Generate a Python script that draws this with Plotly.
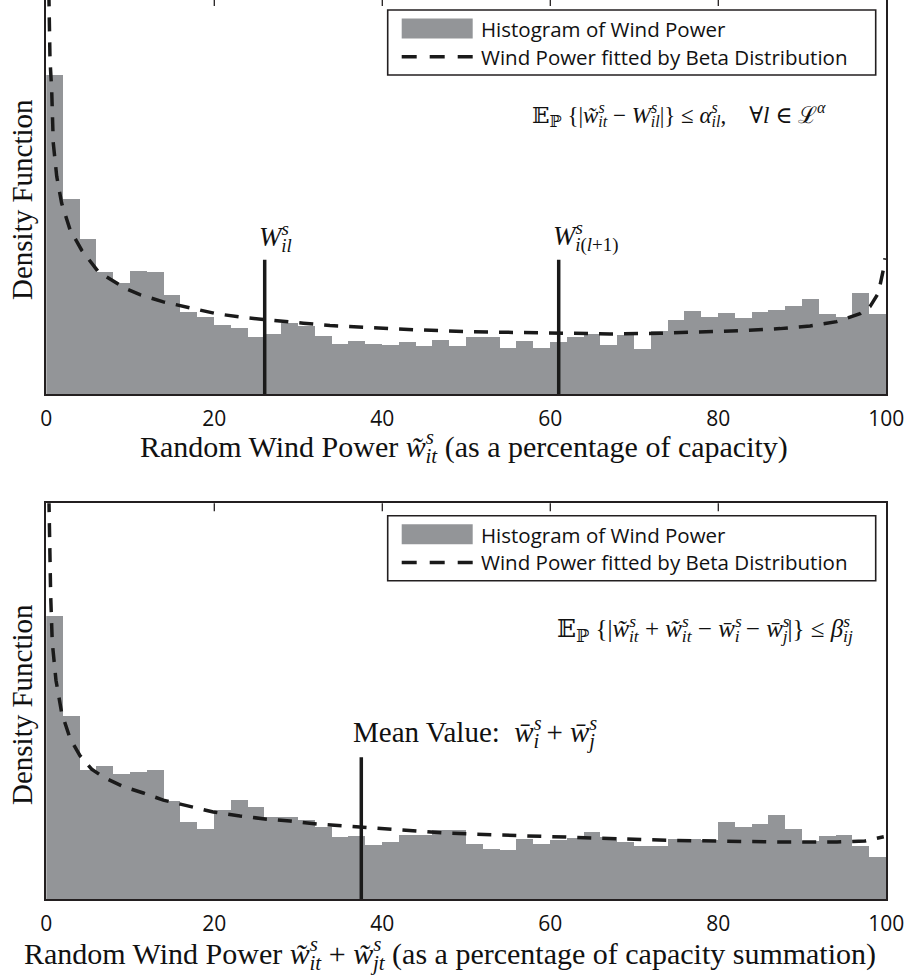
import plotly.graph_objects as go

# ---------------------------------------------------------------------------
# Data: histogram densities (per % of capacity, 2 %-wide bins) and the fitted
# Beta density for single-farm wind power (top) and two-farm sum (bottom).
# ---------------------------------------------------------------------------
bin_centers = [1, 3, 5, 7, 9, 11, 13, 15, 17, 19,
               21, 23, 25, 27, 29, 31, 33, 35, 37, 39,
               41, 43, 45, 47, 49, 51, 53, 55, 57, 59,
               61, 63, 65, 67, 69, 71, 73, 75, 77, 79,
               81, 83, 85, 87, 89, 91, 93, 95, 97, 99]
bin_width = 2

top_density = [0.0402, 0.0245, 0.0195, 0.0153, 0.0140, 0.0155, 0.0154, 0.0125, 0.0103, 0.00966,
               0.00869, 0.00828, 0.00722, 0.00756, 0.00898, 0.00861, 0.00731, 0.00630, 0.00668, 0.00630,
               0.00617, 0.00651, 0.00605, 0.00680, 0.00605, 0.00722, 0.00712, 0.00580, 0.00672, 0.00580,
               0.00659, 0.00714, 0.00756, 0.00617, 0.00743, 0.00571, 0.00798, 0.00932, 0.01046, 0.00970,
               0.01021, 0.00958, 0.01037, 0.01058, 0.01109, 0.01197, 0.01008, 0.00970, 0.01276, 0.01008]

bottom_density = [0.0357, 0.0231, 0.0163, 0.0168, 0.0158, 0.0160, 0.0163, 0.0124, 0.00965, 0.00886,
                  0.01116, 0.01251, 0.01159, 0.01033, 0.01033, 0.00999, 0.00902, 0.00781, 0.00798, 0.00684,
                  0.00718, 0.00810, 0.00810, 0.00873, 0.00873, 0.00697, 0.00630, 0.00621, 0.00760, 0.00697,
                  0.00738, 0.00772, 0.00844, 0.00781, 0.00722, 0.00672, 0.00672, 0.00760, 0.00756, 0.00747,
                  0.00965, 0.00907, 0.00949, 0.01053, 0.00886, 0.00735, 0.00798, 0.00810, 0.00672, 0.00524]

top_fit_x = [0.15, 0.26, 0.44, 0.64, 0.83, 1.24, 1.83, 2.82, 4.21, 6.19,
             9.37, 11.15, 13.93, 17.31, 20.29, 23.65, 27.02, 30.6, 33.77, 37.35,
             40.52, 44.49, 50.05, 54.0, 60.76, 67.1, 73.06, 78.2, 82.98, 87.35,
             90.92, 94.1, 96.87, 98.06, 99.05, 99.64, 99.85]
top_fit_y = [0.060, 0.0496, 0.0421, 0.0383, 0.0316, 0.0274, 0.0240, 0.0207, 0.0181, 0.0154,
             0.0133, 0.0125, 0.0116, 0.0108, 0.0101, 0.00961, 0.00932, 0.00891, 0.00861, 0.00840,
             0.00823, 0.00806, 0.00785, 0.00777, 0.00765, 0.00756, 0.00765, 0.00777, 0.00798, 0.00823,
             0.00857, 0.00911, 0.0101, 0.0110, 0.0127, 0.0156, 0.0171]

bottom_fit_x = [0.15, 0.38, 0.52, 0.71, 1.15, 1.83, 2.82, 4.01, 5.4, 6.79,
                9.17, 11.55, 13.93, 16.71, 19.88, 23.06, 26.24, 29.01, 32.19, 35.36,
                37.55, 40.52, 44.1, 48.06, 54.0, 57.58, 60.76, 64.13, 67.35, 70.8,
                74.25, 77.46, 80.8, 84.13, 87.58, 90.68, 94.13, 97.46, 99.7]
bottom_fit_y = [0.060, 0.0415, 0.0383, 0.0324, 0.0276, 0.0235, 0.0203, 0.0181, 0.0164, 0.0154,
                0.0142, 0.0134, 0.0125, 0.0118, 0.0110, 0.0105, 0.0101, 0.00987, 0.00949, 0.00924,
                0.00907, 0.00886, 0.00852, 0.00832, 0.00810, 0.00798, 0.00785, 0.00772, 0.00760, 0.00751,
                0.00743, 0.00738, 0.00731, 0.00726, 0.00722, 0.00722, 0.00722, 0.00735, 0.00789]

# breakpoints W_il, W_i(l+1) and the mean of the summed power
level_x = [26, 61]
level_top = [0.0169, 0.0169]
mean_x = 37.5
mean_top = 0.0179

x_ticks = [0, 20, 40, 60, 80, 100]
top_ticks = [20, 40, 60, 80]

legend_labels = ["Histogram of Wind Power", "Wind Power fitted by Beta Distribution"]

# ---------------------------------------------------------------------------
# Styling / geometry
# ---------------------------------------------------------------------------
W, H = 907, 976
BAR = "#939598"
INK = "#1a1a1a"
FRAME = "#231f20"
SERIF = "Liberation Serif, DejaVu Serif, serif"
SANS = "Open Sans, Noto Sans, sans-serif"


def px_x(p):
    return p / W


def px_y(p):
    return 1 - p / H


def scr(sup, sub, size):
    """Stacked super/subscript: the superscript carries a negative letter
    spacing so the subscript starts underneath it."""
    shift = 0.40 * 0.7 * size
    return (f"<sup style='letter-spacing:-{shift:.1f}px'><i>{sup}</i></sup>"
            f"<sub>{sub}</sub>")


fig = go.Figure()

# ----- top panel -----------------------------------------------------------
fig.add_trace(go.Bar(x=bin_centers, y=top_density, width=bin_width,
                     marker=dict(color=BAR, line=dict(width=0)),
                     xaxis="x", yaxis="y", showlegend=False, hoverinfo="skip"))
vx, vy = [], []
for lx, lt in zip(level_x, level_top):
    vx += [lx, lx, None]
    vy += [0, lt, None]
fig.add_trace(go.Scatter(x=vx, y=vy, mode="lines",
                         line=dict(color=INK, width=3.5),
                         xaxis="x", yaxis="y", showlegend=False))
fig.add_trace(go.Scatter(x=top_fit_x, y=top_fit_y, mode="lines",
                         line=dict(color=INK, width=3.5, dash="14px,11px"),
                         xaxis="x", yaxis="y", showlegend=False))

# ----- bottom panel --------------------------------------------------------
fig.add_trace(go.Bar(x=bin_centers, y=bottom_density, width=bin_width,
                     marker=dict(color=BAR, line=dict(width=0)),
                     xaxis="x2", yaxis="y2", showlegend=False, hoverinfo="skip"))
fig.add_trace(go.Scatter(x=[mean_x, mean_x], y=[0, mean_top], mode="lines",
                         line=dict(color=INK, width=3.5),
                         xaxis="x2", yaxis="y2", showlegend=False))
fig.add_trace(go.Scatter(x=bottom_fit_x, y=bottom_fit_y, mode="lines",
                         line=dict(color=INK, width=3.5, dash="14px,11px"),
                         xaxis="x2", yaxis="y2", showlegend=False))

x_dom = [px_x(46.3), px_x(886.3)]
top_dom = [px_y(394), 1.0]
bot_dom = [px_y(899.3), px_y(503.3)]

xcommon = dict(range=[0, 100], tickvals=x_ticks, ticks="", showgrid=False,
               zeroline=False, showline=True, linecolor=FRAME, linewidth=1.6,
               tickfont=dict(family=SANS, size=21, color="#111"),
               ticklabelstandoff=5, domain=x_dom, automargin=False)
ycommon = dict(showticklabels=False, ticks="", showgrid=False, zeroline=False,
               showline=True, linecolor=FRAME, linewidth=1.6, mirror=True,
               automargin=False)

fig.update_layout(
    width=W, height=H,
    margin=dict(l=0, r=0, t=0, b=0, pad=0, autoexpand=False),
    paper_bgcolor="white", plot_bgcolor="white",
    bargap=0, showlegend=False,
    font=dict(family=SANS, color="#111"),
    xaxis=dict(anchor="y", mirror=False, **xcommon),
    yaxis=dict(anchor="x", domain=top_dom, range=[0, 0.0496], **ycommon),
    xaxis2=dict(anchor="y2", mirror=True, **xcommon),
    yaxis2=dict(anchor="x2", domain=bot_dom, range=[0, 0.0499], **ycommon),
)

shapes = []
annotations = []

# inside tick marks along the top edge of each panel
for t in top_ticks:
    shapes.append(dict(type="line", xref="x", yref="y domain", x0=t, x1=t,
                       y0=1, y1=1 - 6 / 394, line=dict(color=FRAME, width=1.3)))
    shapes.append(dict(type="line", xref="x2", yref="y2 domain", x0=t, x1=t,
                       y0=1, y1=1 - 8 / 396, line=dict(color=FRAME, width=1.3)))


def add_legend(top):
    shapes.append(dict(type="rect", xref="paper", yref="paper",
                       x0=px_x(387.7), x1=px_x(875.7),
                       y0=px_y(top + 65), y1=px_y(top),
                       line=dict(color=FRAME, width=1.6), fillcolor="white",
                       layer="above"))
    shapes.append(dict(type="rect", xref="paper", yref="paper",
                       x0=px_x(401.7), x1=px_x(472.7),
                       y0=px_y(top + 28.5), y1=px_y(top + 8.5),
                       line=dict(width=0), fillcolor=BAR, layer="above"))
    shapes.append(dict(type="line", xref="paper", yref="paper",
                       x0=px_x(401.7), x1=px_x(472.7),
                       y0=px_y(top + 46.7), y1=px_y(top + 46.7),
                       line=dict(color=INK, width=3.5, dash="15px,13px"),
                       layer="above"))
    for i, lab in enumerate(legend_labels):
        annotations.append(dict(xref="paper", yref="paper", x=px_x(479),
                                y=px_y(top + 19 + 27.5 * i), text=lab,
                                showarrow=False, xanchor="left", yanchor="middle",
                                font=dict(family=SANS, size=20.5, color="#111")))


add_legend(10)
add_legend(515.7)

# axis titles
ytitle = dict(xref="paper", yref="paper", x=px_x(22), text="Density Function",
              textangle=-90, showarrow=False, xanchor="center", yanchor="middle",
              font=dict(family=SERIF, size=29, color="#111"))
annotations.append(dict(ytitle, y=px_y(200)))
annotations.append(dict(ytitle, y=px_y(705)))

w_t = "<i>w\u0303</i>"
w_b = "<i>w\u0304</i>"
annotations.append(dict(
    xref="paper", yref="paper", x=px_x(464), y=px_y(449),
    text=f"Random Wind Power {w_t}{scr('s', '<i>it</i>', 30)} (as a percentage of capacity)",
    showarrow=False, xanchor="center", yanchor="middle",
    font=dict(family=SERIF, size=30, color="#111")))
annotations.append(dict(
    xref="paper", yref="paper", x=px_x(450), y=px_y(956),
    text=(f"Random Wind Power {w_t}{scr('s', '<i>it</i>', 30)} + "
          f"{w_t}{scr('s', '<i>jt</i>', 30)} (as a percentage of capacity summation)"),
    showarrow=False, xanchor="center", yanchor="middle",
    font=dict(family=SERIF, size=30, color="#111")))

# constraint formulas
annotations.append(dict(
    xref="paper", yref="paper", x=px_x(679), y=px_y(115),
    text=(f"\U0001D53C<sub>\u2119</sub> {{|{w_t}{scr('s', '<i>it</i>', 23)} \u2212 "
          f"<i>W</i>{scr('s', '<i>il</i>', 23)}|}} \u2264 <i>\u03b1</i>{scr('s', '<i>il</i>', 23)},"
          f"\u2003\u2200<i>l</i> \u2208 \u2112<sup><i>\u03b1</i></sup>"),
    showarrow=False, xanchor="center", yanchor="middle",
    font=dict(family=SERIF, size=23, color="#111")))
annotations.append(dict(
    xref="paper", yref="paper", x=px_x(705), y=px_y(630),
    text=(f"\U0001D53C<sub>\u2119</sub> {{|{w_t}{scr('s', '<i>it</i>', 25)} + "
          f"{w_t}{scr('s', '<i>it</i>', 25)} \u2212 {w_b}{scr('s', '<i>i</i>', 25)} \u2212 "
          f"{w_b}{scr('s', '<i>j</i>', 25)}|}} \u2264 <i>\u03b2</i>{scr('s', '<i>ij</i>', 25)}"),
    showarrow=False, xanchor="center", yanchor="middle",
    font=dict(family=SERIF, size=25, color="#111")))

# labels on the vertical markers
level_labels = [f"<i>W</i>{scr('s', '<i>il</i>', 27)}",
                f"<i>W</i>{scr('s', '<i>i</i>(<i>l</i>+1)', 27)}"]
for lx, lt, lab in zip(level_x, level_top, level_labels):
    annotations.append(dict(xref="x", yref="y", x=lx, y=lt, text=lab,
                            showarrow=False, xanchor="left", yanchor="bottom",
                            xshift=-8, yshift=2,
                            font=dict(family=SERIF, size=27, color="#111")))
annotations.append(dict(
    xref="x2", yref="y2", x=mean_x, y=mean_top,
    text=f"Mean Value:  {w_b}{scr('s', '<i>i</i>', 29)} + {w_b}{scr('s', '<i>j</i>', 29)}",
    showarrow=False, xanchor="left", yanchor="bottom", xshift=-10, yshift=2,
    font=dict(family=SERIF, size=29, color="#111")))

fig.update_layout(shapes=shapes, annotations=annotations)

fig.write_html("out.html")
